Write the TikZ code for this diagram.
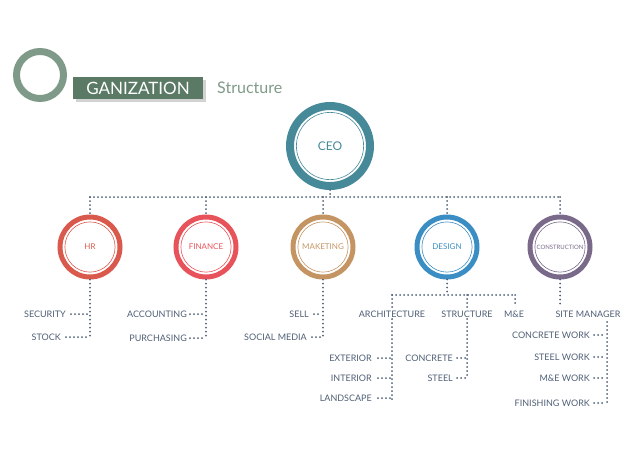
\documentclass[tikz,border=0pt]{standalone}
\usepackage{fontspec}
\setmainfont{Lato}
\begin{document}
\definecolor{txt}{HTML}{4F5F75}
\definecolor{dotc}{HTML}{4F5F75}
\definecolor{ceo}{HTML}{468A9A}
\definecolor{hr}{HTML}{D9594C}
\definecolor{fin}{HTML}{E8525A}
\definecolor{mkt}{HTML}{C49563}
\definecolor{des}{HTML}{3B8EC4}
\definecolor{con}{HTML}{7A6A8A}
\definecolor{tgreen}{HTML}{5A7A65}
\definecolor{tring}{HTML}{7F9A88}
\begin{tikzpicture}[x=1pt,y=-1pt,
  dl/.style={draw=dotc,line width=2pt,line cap=round,dash pattern=on 0pt off 4pt},
  lab/.style={text=txt,font=\fontsize{9}{10}\selectfont,inner sep=1pt},
  lr/.style={lab,anchor=east}]
\useasboundingbox (0,0) rectangle (637,450);
\newcommand\ring[8]{%
  \node[circle,minimum size={2*#4},draw=#6,line width=#5,inner sep=0pt,text=#6,font=\fontsize{#8}{#8}\selectfont] (#1) at (#2,#3) {#7};
  \draw[white,line width=0.6pt] (#1.center) circle ({#4-#5/2-1.2});
  \draw[#6,line width=0.6pt] (#1.center) circle ({#4-#5/2-2.4});}
% title
\draw[tring,line width=7pt] (40,75) circle (23.5);
\fill[gray!35] (76,80) rectangle (206,102);
\node[fill=tgreen,text=white,font=\fontsize{17}{17}\selectfont,minimum width=130,minimum height=22,inner sep=0pt] (tt) at (138,88) {GANIZATION};
\node[text=tring,font=\fontsize{16}{16}\selectfont,anchor=west,inner sep=0pt] (st) at (217,88) {Structure};
% dotted skeleton
\coordinate (hl) at (90,197); \coordinate (hrr) at (560,197);
\ring{ceo}{330}{146}{40}{8pt}{ceo}{CEO}{12}
\ring{hr}{90}{247}{30}{5pt}{hr}{HR}{8}
\ring{fin}{206}{247}{30}{5pt}{fin}{FINANCE}{8}
\ring{mkt}{323}{247}{30}{5pt}{mkt}{MAKETING}{8}
\ring{des}{447}{247}{30}{5pt}{des}{DESIGN}{8}
\ring{con}{560}{247}{30}{5pt}{con}{CONSTRUCTION}{6}
\draw[dl] (hl) -- (hrr);
\draw[dl] (ceo.south) -- (330,197);
\foreach \n/\x in {hr/90,fin/206,mkt/323,des/447,con/560}{\draw[dl] (\x,197) -- (\n.north);}
% HR
\node[lr] (sec) at (67,314) {SECURITY};
\node[lr] (sto) at (62,337) {STOCK};
\draw[dl] (hr.south) -- (90,337);
\draw[dl] (sec.east)++(4,0) -- (88,314);
\draw[dl] (sto.east)++(4,0) -- (88,337);
% finance
\node[lr] (acc) at (188,314) {ACCOUNTING};
\node[lr] (pur) at (188,338) {PURCHASING};
\draw[dl] (fin.south) -- (206,338);
\draw[dl] (acc.east)++(2,0) -- (204,314);
\draw[dl] (pur.east)++(2,0) -- (204,338);
% marketing
\node[lr] (sell) at (310,314) {SELL};
\node[lr] (soc) at (308,337) {SOCIAL MEDIA};
\draw[dl] (mkt.south) -- (323,337);
\draw[dl] (sell.east)++(4,0) -- (321,314);
\draw[dl] (soc.east)++(4,0) -- (321,337);
% design
\draw[dl] (des.south) -- (447,295);
\draw[dl] (392,295) -- (515,295);
\draw[dl] (392,295) -- (392,400);
\draw[dl] (467,295) -- (467,378);
\draw[dl] (515,295) -- (515,305);
\node[lab,fill=white] (arc) at (392,314) {ARCHITECTURE};
\node[lab,fill=white] (str) at (467,314) {STRUCTURE};
\node[lab] (me) at (514,314) {M\&E};
\node[lr] (ext) at (373,358) {EXTERIOR};
\node[lr] (int) at (373,378) {INTERIOR};
\node[lr] (lan) at (373,398) {LANDSCAPE};
\foreach \n/\y in {ext/358,int/378,lan/398}{\draw[dl] (\n.east)++(5,0) -- (390,\y);}
\node[lr] (cc) at (454,358) {CONCRETE};
\node[lr] (stl) at (454,378) {STEEL};
\foreach \n/\y in {cc/358,stl/378}{\draw[dl] (\n.east)++(3,0) -- (465,\y);}
% construction
\draw[dl] (con.south) -- (560,305);
\node[lab] (sm) at (588,314) {SITE MANAGER};
\draw[dl] (607,322) -- (607,403);
\node[lr] (cw) at (591,335) {CONCRETE WORK};
\node[lr] (sw) at (591,357) {STEEL WORK};
\node[lr] (mw) at (591,378) {M\&E WORK};
\node[lr] (fw) at (591,403) {FINISHING WORK};
\foreach \n/\y in {cw/335,sw/357,mw/378,fw/403}{\draw[dl] (\n.east)++(3,0) -- (605,\y);}
\end{tikzpicture}
\end{document}
